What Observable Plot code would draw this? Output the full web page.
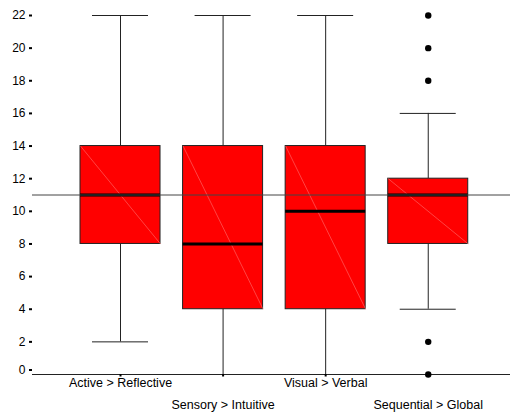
<!DOCTYPE html>
<html>
<head>
<meta charset="utf-8">
<script src="https://cdn.jsdelivr.net/npm/d3@7"></script>
<script src="https://cdn.jsdelivr.net/npm/@observablehq/plot@0.6"></script>
<style>
  html, body { margin: 0; padding: 0; background: #fff; }
  #chart svg { display: block; }
</style>
</head>
<body>
<div id="chart"></div>
<script>
// Learning-style dimension scores: five-number summary per dimension
const categories = ["Active > Reflective", "Sensory > Intuitive", "Visual > Verbal", "Sequential > Global"];
const whiskerLow = [2, 0, 0, 4];
const quartile1 = [8, 4, 4, 8];
const medians = [11, 8, 10, 11];
const quartile3 = [14, 14, 14, 12];
const whiskerHigh = [22, 22, 22, 16];

// Points beyond the whiskers (category index, value)
const outlierCategory = [3, 3, 3, 3, 3];
const outlierValue = [0, 2, 18, 20, 22];

const referenceValue = 11;
const yTicks = [0, 2, 4, 6, 8, 10, 12, 14, 16, 18, 20, 22];

// Build rows for the marks; boxes sit at positions 1..n on a linear x scale
const boxes = categories.map((name, i) => ({
  name, pos: i + 1,
  lo: whiskerLow[i], q1: quartile1[i], med: medians[i], q3: quartile3[i], hi: whiskerHigh[i]
}));
const outliers = outlierValue.map((v, k) => ({pos: outlierCategory[k] + 1, value: v}));

const halfBox = 0.39;   // half box width in x units
const halfCap = 0.273;  // half whisker-cap width

const chart = Plot.plot({
  width: 510,
  height: 416,
  marginLeft: 32,
  marginRight: 0,
  marginTop: 15,
  marginBottom: 42,
  style: {fontFamily: "'Liberation Sans', Arial, sans-serif", fontSize: "12px", background: "#fff", color: "#000"},
  x: {domain: [0.142, 4.802]},
  y: {domain: [0, 22]},
  marks: [
    // whiskers
    Plot.ruleX(boxes, {x: "pos", y1: "q3", y2: "hi", stroke: "#222", strokeWidth: 1}),
    Plot.ruleX(boxes, {x: "pos", y1: "lo", y2: "q1", stroke: "#222", strokeWidth: 1}),
    Plot.ruleY(boxes, {y: "hi", x1: d => d.pos - halfCap, x2: d => d.pos + halfCap, stroke: "#222", strokeWidth: 1}),
    Plot.ruleY(boxes, {y: "lo", x1: d => d.pos - halfCap, x2: d => d.pos + halfCap, stroke: "#222", strokeWidth: 1}),
    // boxes
    Plot.rect(boxes, {x1: d => d.pos - halfBox, x2: d => d.pos + halfBox, y1: "q1", y2: "q3", fill: "#ff0000", stroke: "#222", strokeWidth: 1}),
    Plot.link(boxes, {x1: d => d.pos - halfBox, x2: d => d.pos + halfBox, y1: "q3", y2: "q1", stroke: "#ff7070", strokeWidth: 0.6}),
    // medians
    Plot.ruleY(boxes, {y: "med", x1: d => d.pos - halfBox, x2: d => d.pos + halfBox, stroke: "#000", strokeWidth: 3}),
    // reference line and baseline
    Plot.ruleY([referenceValue], {stroke: "#444", strokeWidth: 1}),
    Plot.ruleY([0], {stroke: "#222", strokeWidth: 1}),
    // outliers
    Plot.dot(outliers, {x: "pos", y: "value", r: 3.2, fill: "#000", stroke: null}),
    // axes: the zero label sits a little above its tick
    Plot.axisY({ticks: yTicks.filter(t => t !== 0), line: true, tickSize: 3, tickPadding: 4, strokeWidth: 2, fontSize: 12, label: null}),
    Plot.axisY({ticks: [0], tickSize: 3, tickPadding: 4, strokeWidth: 2, fontSize: 12, dy: -4.5, label: null}),
    Plot.axisX({ticks: [1, 2, 3, 4], tickSize: 2.5, strokeWidth: 2, tickFormat: () => "", label: null}),
    Plot.text(boxes.filter((d, i) => i % 2 === 0), {x: "pos", text: "name", frameAnchor: "bottom", dy: 12, fontSize: 12.5, fill: "#000"}),
    Plot.text(boxes.filter((d, i) => i % 2 === 1), {x: "pos", text: "name", frameAnchor: "bottom", dy: 34, fontSize: 12.5, fill: "#000"})
  ]
});

document.getElementById("chart").appendChild(chart);
</script>
</body>
</html>
